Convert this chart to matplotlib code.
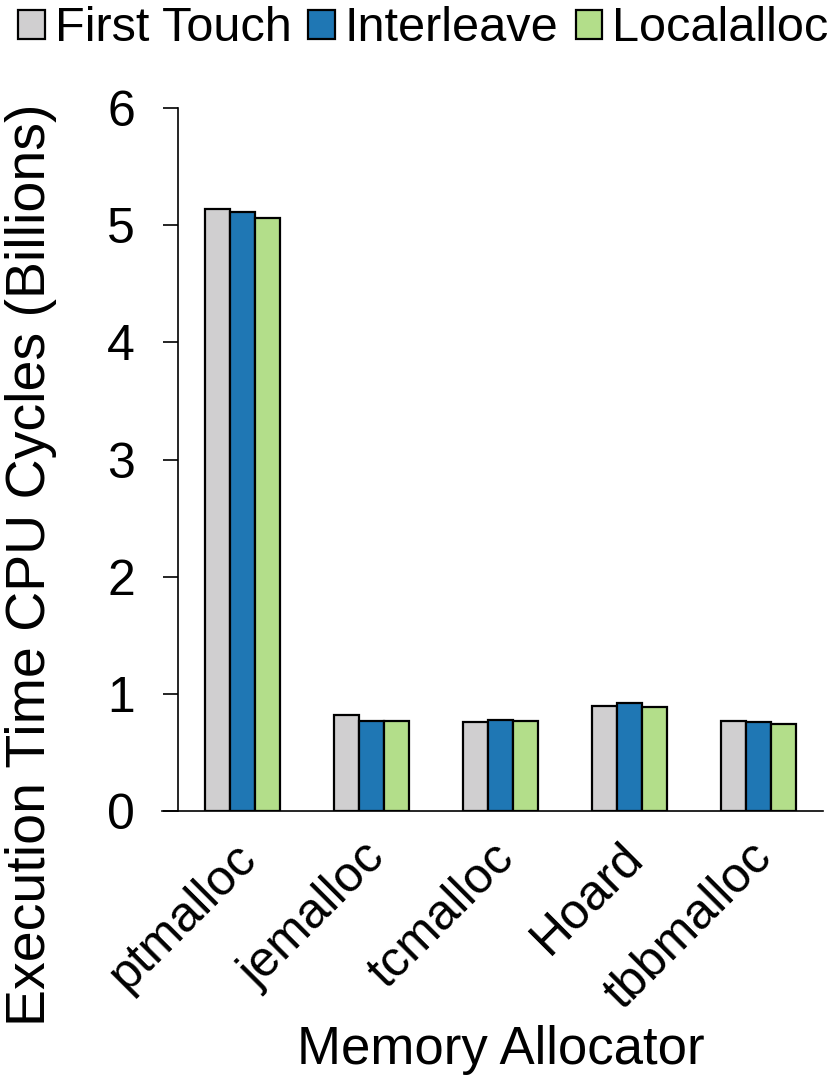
import numpy as np
import matplotlib
matplotlib.use('agg')
import matplotlib.pyplot as plt
import matplotlib.transforms as mtransforms

plt.rcParams['font.family'] = ['Liberation Sans', 'DejaVu Sans']

allocators = ['ptmalloc', 'jemalloc', 'tcmalloc', 'Hoard', 'tbbmalloc']
policies = ['First Touch', 'Interleave', 'Localalloc']
first_touch = [5.14, 0.82, 0.76, 0.90, 0.77]
interleave = [5.11, 0.77, 0.78, 0.92, 0.76]
localalloc = [5.06, 0.77, 0.77, 0.89, 0.74]
colors = ['#D0CFD0', '#1F77B4', '#B3DE8A']

fig = plt.figure(figsize=(8.3, 10.87), dpi=100)
ax = fig.add_axes([0.2145, 0.2539, 0.777, 0.6467])

x = np.arange(len(allocators))
w = 0.194
for i, (vals, name) in enumerate(zip([first_touch, interleave, localalloc], policies)):
    ax.bar(x + (i - 1) * w, vals, w, color=colors[i], edgecolor='black',
           linewidth=1.6, label=name)

ax.set_xlim(-0.5, 4.5)
ax.set_ylim(0, 6)
ax.set_yticks(range(7))
ax.set_xticks(x)
ax.set_xticklabels(allocators, rotation=45, ha='right', rotation_mode='anchor')
ax.tick_params(axis='y', labelsize=36, length=11, width=1.2, pad=20)
ax.tick_params(axis='x', labelsize=36, length=0, pad=14)
shift = mtransforms.ScaledTranslation(-10 / 100, -4 / 100, fig.dpi_scale_trans)
for lbl in ax.get_xticklabels():
    lbl.set_transform(lbl.get_transform() + shift)
for s in ['top', 'right']:
    ax.spines[s].set_visible(False)
ax.spines['left'].set_linewidth(1.2)
ax.spines['bottom'].set_linewidth(1.2)
ax.spines['bottom'].set_bounds(-0.624, 4.5)

ax.set_ylabel('Execution Time CPU Cycles (Billions)', fontsize=40)
ax.yaxis.set_label_coords(-0.188, 0.351)
ax.set_xlabel('Memory Allocator', fontsize=38)
ax.xaxis.set_label_coords(0.5, -0.305)

fig.legend(loc='upper center', bbox_to_anchor=(0.51, 1.012), ncol=3, frameon=False,
           fontsize=35, handlelength=0.55, handleheight=0.55, handletextpad=0.2,
           columnspacing=0.35, borderaxespad=0)

fig.savefig('out.png', dpi=100)
